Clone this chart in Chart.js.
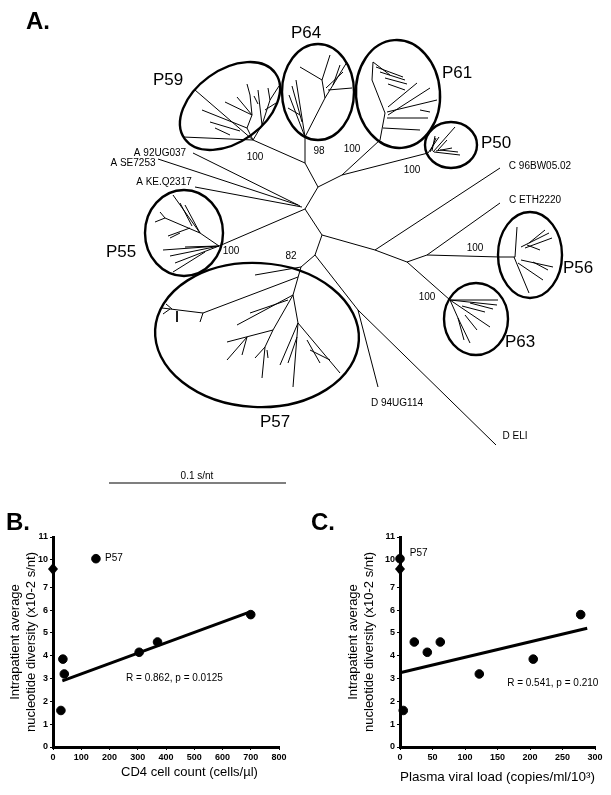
<!DOCTYPE html>
<html>
<head>
<meta charset="utf-8">
<script src="https://cdn.jsdelivr.net/npm/chart.js@4.4.1/dist/chart.umd.min.js"></script>
<style>
    html, body { margin: 0; padding: 0; background: #fff; }
    body { width: 611px; height: 795px; position: relative; overflow: hidden; }
    .panel { position: absolute; }
</style>
</head>
<body>
<div class="panel" style="left:0;top:0;width:611px;height:500px"><canvas id="treeChart"></canvas></div>
<div class="panel" style="left:0;top:500px;width:305px;height:295px"><canvas id="cd4Chart"></canvas></div>
<div class="panel" style="left:305px;top:500px;width:306px;height:295px"><canvas id="vlChart"></canvas></div>
<script>
// ---- panel A: tree branches, [x1, y1, x2, y2] in tree units
const backbone = [
    [305, 209, 318, 187], [318, 187, 305, 163], [305, 163, 253, 140], [305, 163, 305, 137],
    [318, 187, 342, 175], [342, 175, 380, 140], [342, 175, 428, 153],
    [300, 206, 193, 153], [298, 205, 158, 159], [302, 207, 195, 187],
    [305, 209, 219, 246], [305, 209, 322, 235],
    [322, 235, 375, 250], [375, 250, 500, 168], [375, 250, 407, 262], [407, 262, 427, 255],
    [427, 255, 500, 203], [427, 255, 500, 257], [407, 262, 450, 300],
    [322, 235, 315, 255], [315, 255, 301, 267], [315, 255, 358, 310],
    [358, 310, 378, 387], [358, 310, 496, 445],
];
const cladeP59 = [
    [253, 140, 183, 137], [253, 140, 195, 90], [253, 140, 247, 128], [247, 128, 202, 110],
    [240, 131, 210, 122], [247, 128, 252, 115], [252, 115, 225, 102], [252, 115, 237, 97],
    [252, 115, 250, 95], [250, 95, 247, 84], [253, 140, 262, 125], [262, 125, 258, 90],
    [262, 125, 270, 100], [270, 100, 268, 88], [270, 100, 279, 86], [265, 110, 276, 103],
    [230, 135, 215, 128], [258, 104, 254, 96],
];
const cladeP64 = [
    [305, 137, 325, 98], [325, 98, 322, 80], [322, 80, 300, 67], [322, 80, 330, 55],
    [325, 98, 333, 85], [333, 85, 340, 65], [333, 85, 347, 62], [328, 90, 352, 88],
    [326, 88, 343, 72], [305, 137, 296, 80], [305, 137, 289, 95], [300, 115, 288, 108],
    [302, 122, 292, 86],
];
const cladeP61 = [
    [380, 140, 385, 113], [385, 113, 372, 80], [372, 80, 373, 62], [373, 62, 390, 75],
    [376, 67, 403, 77], [380, 72, 405, 80], [385, 78, 407, 84], [388, 84, 405, 90],
    [388, 107, 417, 83], [388, 115, 430, 88], [387, 112, 437, 100], [387, 118, 428, 118],
    [383, 128, 420, 130], [420, 110, 430, 112],
];
const cladeP50 = [
    [428, 153, 439, 137], [430, 152, 436, 138], [432, 151, 435, 136], [433, 152, 455, 127],
    [434, 152, 460, 155], [436, 151, 452, 148], [440, 150, 458, 152], [438, 150, 447, 140],
];
const cladeP55 = [
    [219, 246, 200, 233], [200, 233, 173, 195], [200, 233, 185, 205], [192, 226, 180, 203],
    [200, 233, 165, 218], [165, 218, 155, 222], [165, 218, 160, 212], [190, 228, 168, 236],
    [219, 246, 163, 250], [219, 246, 170, 256], [219, 246, 175, 263], [205, 252, 173, 272],
    [219, 246, 185, 247], [180, 233, 170, 238],
];
const cladeP57 = [
    [301, 267, 255, 275], [298, 277, 203, 313], [203, 313, 162, 308], [177, 311, 177, 322],
    [203, 313, 200, 322], [170, 309, 163, 314], [172, 309, 166, 304],
    [301, 267, 293, 295], [293, 295, 237, 325], [288, 300, 250, 313], [293, 295, 273, 330],
    [273, 330, 227, 342], [247, 337, 227, 360], [247, 337, 242, 355], [273, 330, 265, 347],
    [265, 347, 262, 378], [265, 347, 255, 358], [267, 350, 268, 358], [293, 295, 298, 323],
    [298, 323, 293, 387], [298, 323, 280, 365], [297, 337, 288, 363], [298, 323, 340, 373],
    [307, 340, 320, 363], [310, 350, 330, 360],
];
const cladeP56 = [
    [500, 257, 515, 257], [515, 257, 517, 227], [521, 247, 549, 233], [525, 248, 552, 238],
    [529, 243, 545, 230], [514, 257, 529, 293], [518, 263, 543, 280], [521, 260, 553, 267],
    [533, 262, 548, 270], [527, 245, 540, 250],
];
const cladeP63 = [
    [450, 300, 498, 300], [450, 300, 497, 305], [470, 303, 493, 309], [450, 300, 490, 327],
    [465, 315, 477, 330], [450, 300, 458, 318], [458, 318, 470, 343], [458, 318, 464, 340],
    [462, 306, 485, 312],
];
const scaleBar = [[109, 483, 286, 483]];

// clade circles: [name, cx, cy, rx, ry, rotation deg]
const cladeEllipses = [
    ['P59', 230, 106, 56, 36, -36], ['P64', 318, 92, 36, 48, 0], ['P61', 398, 94, 42, 54, -4],
    ['P50', 451, 145, 26, 23, 0], ['P55', 184, 233, 39, 43, 0], ['P57', 257, 335, 102, 72, 3],
    ['P56', 530, 255, 32, 43, 0], ['P63', 476, 319, 32, 36, 0],
];
const cladeLabels = [
    ['P64', 306, 33], ['P59', 168, 80], ['P61', 457, 73], ['P50', 496, 143],
    ['P55', 121, 252], ['P56', 578, 268], ['P63', 520, 342], ['P57', 275, 422],
];
const refLabels = [
    ['A 92UG037', 160, 153], ['A SE7253', 133, 163], ['A KE.Q2317', 164, 182],
    ['C 96BW05.02', 540, 166], ['C ETH2220', 535, 200], ['D 94UG114', 397, 403], ['D ELI', 515, 436],
];
const bootstrapLabels = [
    ['100', 255, 157], ['98', 319, 151], ['100', 352, 149], ['100', 412, 170],
    ['100', 231, 251], ['82', 291, 256], ['100', 475, 248], ['100', 427, 297],
];

// ---- panels B and C
const cd4Count = [28, 35, 40, 305, 370, 700, 152];
const diversityB = [1.6, 3.85, 3.2, 4.15, 4.6, 5.8, 10.05];
const fitB = { x: [33, 693], y: [2.9, 5.9] };

const viralLoad = [5, 22, 42, 62, 122, 205, 278, 0];
const diversityC = [1.6, 4.6, 4.15, 4.6, 3.2, 3.85, 5.8, 10.05];
const fitC = { x: [0, 288], y: [3.25, 5.2] };

const yTickLabels = [0, 1, 2, 3, 4, 5, 6, 7, 10, 11];
const BREAK_GAP = 1.8;   // 8-9 are cut out of the y axis
const BREAK_MARK = 7.8;

const FONT = '"Liberation Sans", Arial, Helvetica, sans-serif';

function axisY(v) {
    return v >= 10 ? v - BREAK_GAP : v;
}

function segmentsToPoints(segs) {
    const pts = [];
    segs.forEach(s => {
        pts.push({ x: s[0], y: s[1] }, { x: s[2], y: s[3] }, { x: s[2], y: null });
    });
    return pts;
}

function lineSet(segs, color, width) {
    return {
        data: segmentsToPoints(segs), showLine: true, spanGaps: false,
        borderColor: color, borderWidth: width, pointRadius: 0, fill: false,
    };
}

const treePlugin = {
    id: 'treeDecor',
    afterDatasetsDraw(chart) {
        const { ctx, scales: { x, y } } = chart;
        ctx.save();
        ctx.strokeStyle = '#000';
        ctx.lineWidth = 2.4;
        cladeEllipses.forEach(([, cx, cy, rx, ry, rot]) => {
            const px = x.getPixelForValue(cx), py = y.getPixelForValue(cy);
            ctx.beginPath();
            ctx.ellipse(px, py, x.getPixelForValue(cx + rx) - px, y.getPixelForValue(cy + ry) - py,
                rot * Math.PI / 180, 0, Math.PI * 2);
            ctx.stroke();
        });
        ctx.fillStyle = '#000';
        ctx.textAlign = 'center';
        ctx.textBaseline = 'middle';
        const put = (list, font) => {
            ctx.font = font;
            list.forEach(([t, tx, ty]) => ctx.fillText(t, x.getPixelForValue(tx), y.getPixelForValue(ty)));
        };
        put(cladeLabels, '17px ' + FONT);
        put(refLabels, '10px ' + FONT);
        put(bootstrapLabels, '10px ' + FONT);
        put([['0.1 s/nt', 197, 476]], '10px ' + FONT);
        put([['A.', 38, 22]], 'bold 24px ' + FONT);
        ctx.restore();
    }
};

new Chart(document.getElementById('treeChart'), {
    type: 'scatter',
    data: {
        datasets: [
            lineSet(backbone, '#000', 1),
            lineSet(cladeP59, '#000', 1), lineSet(cladeP64, '#000', 1), lineSet(cladeP61, '#000', 1),
            lineSet(cladeP50, '#000', 1), lineSet(cladeP55, '#000', 1), lineSet(cladeP57, '#000', 1),
            lineSet(cladeP56, '#000', 1), lineSet(cladeP63, '#000', 1),
            lineSet(scaleBar, '#555', 1.5),
        ]
    },
    options: {
        responsive: true, maintainAspectRatio: false, animation: false,
        layout: { padding: 0 },
        plugins: { legend: { display: false }, tooltip: { enabled: false } },
        scales: {
            x: { type: 'linear', min: 0, max: 611, display: false },
            y: { type: 'linear', min: 0, max: 500, reverse: true, display: false },
        }
    },
    plugins: [treePlugin]
});

function makeScatter(canvasId, cfg) {
    const notes = {
        id: 'notes',
        afterDatasetsDraw(chart) {
            const { ctx, scales: { x, y } } = chart;
            ctx.save();
            ctx.fillStyle = '#000';
            // axis break diamond
            const bx = x.getPixelForValue(0), by = y.getPixelForValue(BREAK_MARK);
            ctx.beginPath();
            ctx.moveTo(bx, by - 6); ctx.lineTo(bx + 5, by); ctx.lineTo(bx, by + 6); ctx.lineTo(bx - 5, by);
            ctx.closePath();
            ctx.fill();
            ctx.textBaseline = 'middle';
            ctx.font = '10px ' + FONT;
            ctx.textAlign = 'left';
            ctx.fillText('P57', x.getPixelForValue(cfg.p57Label[0]), y.getPixelForValue(axisY(cfg.p57Label[1])));
            ctx.textAlign = 'center';
            ctx.fillText(cfg.stat, x.getPixelForValue(cfg.statAt[0]), y.getPixelForValue(cfg.statAt[1]));
            ctx.font = 'bold 24px ' + FONT;
            ctx.fillText(cfg.letter, cfg.letterAt[0], cfg.letterAt[1]);
            ctx.restore();
        }
    };

    return new Chart(document.getElementById(canvasId), {
        type: 'scatter',
        data: {
            datasets: [
                {
                    data: cfg.xs.map((v, i) => ({ x: v, y: axisY(cfg.ys[i]) })),
                    backgroundColor: '#000', borderColor: '#000', pointRadius: 4.3, clip: false,
                },
                {
                    data: cfg.fit.x.map((v, i) => ({ x: v, y: cfg.fit.y[i] })),
                    showLine: true, borderColor: '#000', borderWidth: 3, pointRadius: 0, clip: false,
                },
            ]
        },
        options: {
            responsive: true, maintainAspectRatio: false, animation: false,
            layout: { padding: cfg.padding },
            plugins: { legend: { display: false }, tooltip: { enabled: false } },
            scales: {
                x: {
                    type: 'linear', min: 0, max: cfg.xMax,
                    afterFit: s => { s.height = cfg.xAxisHeight; },
                    ticks: { stepSize: cfg.xStep, color: '#000', padding: 2, font: { family: FONT, size: 9, weight: 'bold' } },
                    grid: { drawOnChartArea: false, drawTicks: true, tickLength: 3, color: '#000' },
                    border: { display: true, width: 3, color: '#000' },
                    title: { display: true, text: cfg.xTitle, color: '#000', align: 'center',
                        padding: { top: 0, bottom: cfg.xTitlePad }, font: { family: FONT, size: cfg.xTitleSize, lineHeight: 1.3 } },
                },
                y: {
                    type: 'linear', min: 0, max: axisY(11),
                    afterFit: s => { s.width = cfg.yAxisWidth; },
                    afterBuildTicks: s => { s.ticks = yTickLabels.map(v => ({ value: axisY(v) })); },
                    ticks: {
                        color: '#000', padding: 2, font: { family: FONT, size: 9, weight: 'bold' },
                        callback: val => {
                            const t = yTickLabels.find(v => Math.abs(axisY(v) - val) < 1e-6);
                            return t === undefined ? '' : String(t);
                        }
                    },
                    grid: { drawOnChartArea: false, drawTicks: true, tickLength: 3, color: '#000' },
                    border: { display: true, width: 3, color: '#000' },
                    title: { display: true, text: ['Intrapatient average', 'nucleotide diversity (x10-2 s/nt)'],
                        color: '#000', padding: { top: 6.5, bottom: 0 }, font: { family: FONT, size: 13, lineHeight: 1.3 } },
                },
            }
        },
        plugins: [notes]
    });
}

makeScatter('cd4Chart', {
    xs: cd4Count, ys: diversityB, fit: fitB, xMax: 800, xStep: 100,
    xTitle: '             CD4 cell count (cells/\u00b5l)', xTitleSize: 13,
    padding: { left: 0, top: 37, right: 26, bottom: 10 }, yAxisWidth: 53, xAxisHeight: 38, xTitlePad: 4.5,
    p57Label: [184, 10.05], stat: 'R = 0.862, p = 0.0125', statAt: [430, 3.02],
    letter: 'B.', letterAt: [18, 23],
});

makeScatter('vlChart', {
    xs: viralLoad, ys: diversityC, fit: fitC, xMax: 300, xStep: 50,
    xTitle: 'Plasma viral load (copies/ml/10\u00b3)', xTitleSize: 13.5,
    padding: { left: 33, top: 37, right: 16, bottom: 8 }, yAxisWidth: 62, xAxisHeight: 40, xTitlePad: 0.5,
    p57Label: [15, 10.3], stat: 'R = 0.541, p = 0.210', statAt: [235, 2.8],
    letter: 'C.', letterAt: [18, 23],
});
</script>
</body>
</html>
